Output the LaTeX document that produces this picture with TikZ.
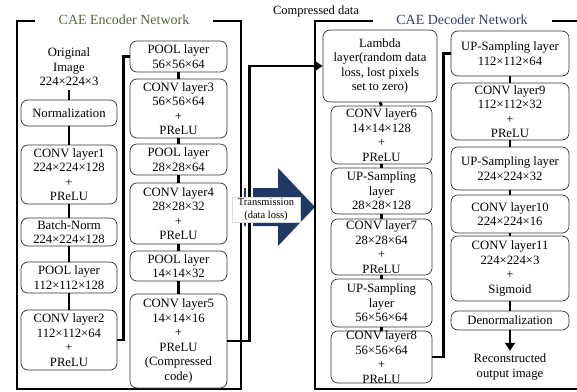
\documentclass[tikz,border=0pt]{standalone}
\usepackage{fontspec}
\setmainfont{Liberation Serif}
\usetikzlibrary{arrows.meta}
\definecolor{encgreen}{RGB}{78,106,56}
\definecolor{decblue}{RGB}{46,64,112}
\definecolor{navy}{RGB}{31,56,100}
\tikzset{
  bx/.style={draw=black!80, line width=0.7pt, rounded corners=7pt, inner sep=0pt, fill=white},
  tx/.style={align=center, inner sep=0pt, font=\fontsize{12.7}{14.5}\selectfont},
  conn/.style={line width=2.8pt, black},
  frame/.style={line width=1.8pt, black},
  tip/.style={-{Triangle[width=10pt,length=8pt]}},
}
\newcommand{\mybox}[6]{%
  \node[bx, minimum width={(#4)-(#2)}, minimum height={(#5)-(#3)}] (#1) at ({((#2)+(#4))/2},{((#3)+(#5))/2}) {};
  \node[tx] (#1t) at (#1.center) {#6};}
\begin{document}
\begin{tikzpicture}[x=1pt,y=-1pt]
\useasboundingbox (0,0) rectangle (577,391);
% block arrow
\fill[navy] (238,188) -- (278,188) -- (278,168) -- (315,207) -- (278,246) -- (278,226) -- (238,226) -- cycle;
% encoder frame
\draw[frame] (35,21) -- (17,21) -- (17,389) -- (241,389) -- (241,21) -- (213,21);
\node[font=\fontsize{14}{16}\selectfont, text=encgreen] (enctitle) at (124,20) {CAE Encoder Network};
% decoder frame
\draw[frame] (373,21) -- (315,21) -- (315,389) -- (577,389);
\draw[frame] (552,21) -- (577,21);
\node[font=\fontsize{14}{16}\selectfont, text=decblue] (dectitle) at (462,20) {CAE Decoder Network};
\node[font=\fontsize{12.5}{14}\selectfont] (cdata) at (316,11) {Compressed data};
% encoder left column
\node[tx, inner sep=4pt] (orig) at (69,67) {Original\\Image\\224×224×3};
\mybox{norm}{21}{100}{117}{126}{Normalization}
\mybox{convA}{21}{145}{117}{204}{CONV layer1\\224×224×128\\+\\PReLU}
\mybox{bn}{21}{218}{117}{246}{Batch-Norm\\224×224×128}
\mybox{poolA}{21}{262}{117}{293}{POOL layer\\112×112×128}
\mybox{convB}{21}{310}{117}{370}{CONV layer2\\112×112×64\\+\\PReLU}
% encoder right column
\mybox{poolB}{130}{41}{227}{72}{POOL layer\\56×56×64}
\mybox{convC}{130}{79}{227}{138}{CONV layer3\\56×56×64\\+\\PReLU}
\mybox{poolC}{130}{144}{227}{175}{POOL layer\\28×28×64}
\mybox{convD}{130}{183}{227}{244}{CONV layer4\\28×28×32\\+\\PReLU}
\mybox{poolD}{130}{251}{227}{281}{POOL layer\\14×14×32}
\mybox{convE}{130}{294}{227}{388}{CONV layer5\\14×14×16\\+\\PReLU\\(Compressed\\code)}
% decoder left column
\mybox{lambda}{323}{30}{437}{102}{Lambda\\layer(random data\\loss, lost pixels\\set to zero)}
\mybox{convF}{331}{106}{432}{164}{CONV layer6\\14×14×128\\+\\PReLU}
\mybox{upA}{331}{168}{432}{214}{UP-Sampling\\layer\\28×28×128}
\mybox{convG}{331}{219}{432}{275}{CONV layer7\\28×28×64\\+\\PReLU}
\mybox{upB}{331}{279}{432}{327}{UP-Sampling\\layer\\56×56×64}
\mybox{convH}{331}{331}{432}{383}{CONV layer8\\56×56×64\\+\\PReLU}
% decoder right column
\mybox{upC}{451}{31}{569}{76}{UP-Sampling layer\\112×112×64}
\mybox{convI}{451}{83}{569}{140}{CONV layer9\\112×112×32\\+\\PReLU}
\mybox{upD}{451}{147}{569}{190}{UP-Sampling layer\\224×224×32}
\mybox{convJ}{451}{195}{569}{233}{CONV layer10\\224×224×16}
\mybox{convK}{451}{236}{569}{301}{CONV layer11\\224×224×3\\+\\Sigmoid}
\mybox{denorm}{451}{311}{569}{330}{Denormalization}
\node[tx, inner sep=3pt] (out) at (510,367) {Reconstructed\\output image};
% vertical connectors
\foreach \a/\b in {orig/norm, norm/convA, convA/bn, bn/poolA, poolA/convB,
  poolB/convC, convC/poolC, poolC/convD, convD/poolD, poolD/convE,
  lambda/convF, convF/upA, upA/convG, convG/upB, upB/convH,
  upC/convI, convI/upD, upD/convJ, convJ/convK, convK/denorm}
  \draw[conn] (\a.south) -- (\b.north);
\draw[conn, tip] (denorm.south) -- (out.north);
% column links
\draw[conn] (convB.east) -- ++(6,0) |- (poolB.west);
\draw[conn] (convH.east) -- ++(11,0) |- (upC.west);
% halo over the block arrow
\begin{scope}
\clip (230,160) rectangle (320,250);
\draw[white, line width=7pt] (convE.east) -- ++(22,0) |- (lambda.west);
\draw[white, line width=5.5pt] (241,21) -- (241,389);
\draw[frame] (241,21) -- (241,389);
\end{scope}
\draw[conn, tip] (convE.east) -- ++(22,0) |- (lambda.west);
% transmission label
\node[draw=black!15, fill=white, align=center, inner sep=1.5pt, minimum width=68pt, minimum height=25pt,
  font=\fontsize{10.5}{12.3}\selectfont] (trans) at (266,209.5) {Transmission\\(data loss)};
\end{tikzpicture}
\end{document}
